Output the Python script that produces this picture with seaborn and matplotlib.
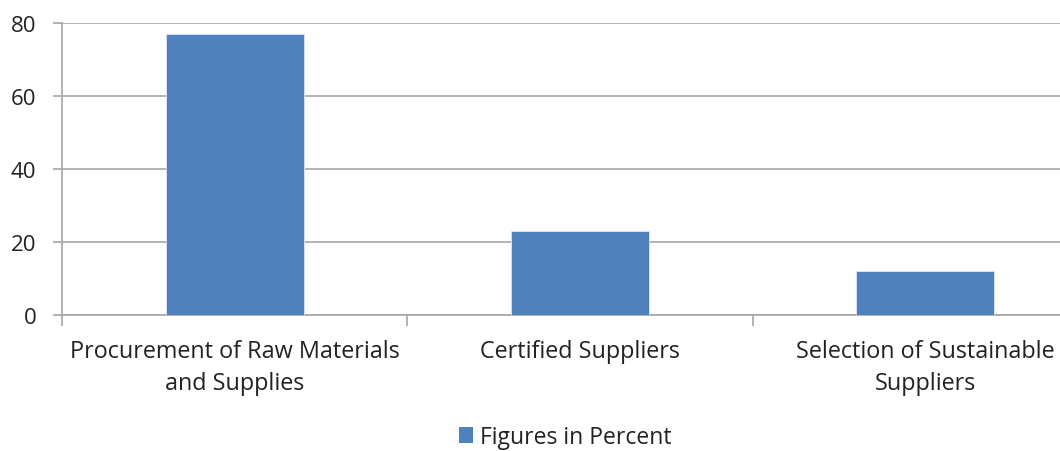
import matplotlib
matplotlib.use("Agg")
import matplotlib.pyplot as plt
import seaborn as sns
import pandas as pd
from matplotlib.patches import Patch

categories = [
    "Procurement of Raw Materials\nand Supplies",
    "Certified Suppliers",
    "Selection of Sustainable\nSuppliers",
]
values = [77, 23, 12]
series_name = "Figures in Percent"
y_ticks = [0, 20, 40, 60, 80]

bar_color = "#4F81BD"
grid_color = "#A6A6A6"
text_color = "#222222"

sns.set_theme(style="white")
plt.rcParams["font.family"] = ["Open Sans", "DejaVu Sans"]

df = pd.DataFrame({"category": categories, "value": values})

fig = plt.figure(figsize=(10.6, 4.52), dpi=100)
ax = fig.add_axes([62 / 1060, 136 / 452, 1036 / 1060, 292 / 452])

sns.barplot(data=df, x="category", y="value", color=bar_color, width=0.4,
            edgecolor="#DCE6F2", linewidth=0.6, saturation=1, ax=ax, zorder=3)

ax.set_ylim(0, 80)
ax.set_xlim(-0.5, 2.5)
ax.set_yticks(y_ticks)
ax.set_yticklabels([str(t) for t in y_ticks], fontsize=16, color=text_color)
ax.yaxis.grid(True, color=grid_color, linewidth=1.2, zorder=0)
ax.set_axisbelow(True)
ax.set_xlabel("")
ax.set_ylabel("")

for side in ["top", "right"]:
    ax.spines[side].set_visible(False)
for side in ["left", "bottom"]:
    ax.spines[side].set_color(grid_color)
    ax.spines[side].set_linewidth(1.2)

ax.tick_params(axis="y", which="major", left=True, length=6.5, width=1.2,
               color=grid_color, pad=12)
ax.tick_params(axis="x", which="major", bottom=False, length=0, pad=17)
ax.set_xticks([-0.5, 0.5, 1.5, 2.5], minor=True)
ax.tick_params(axis="x", which="minor", bottom=True, length=8, width=1.2,
               color=grid_color)
for lbl in ax.get_xticklabels():
    lbl.set_fontsize(16.8)
    lbl.set_color(text_color)
    lbl.set_linespacing(1.45)

handle = Patch(facecolor=bar_color, edgecolor="none")
fig.legend([handle], [series_name], loc="center", bbox_to_anchor=(565 / 1060, 1 - 438 / 452),
           frameon=False, fontsize=16.5, handlelength=0.6, handleheight=0.7,
           handletextpad=0.3, labelcolor=text_color)

fig.savefig("out.png", dpi=100)
